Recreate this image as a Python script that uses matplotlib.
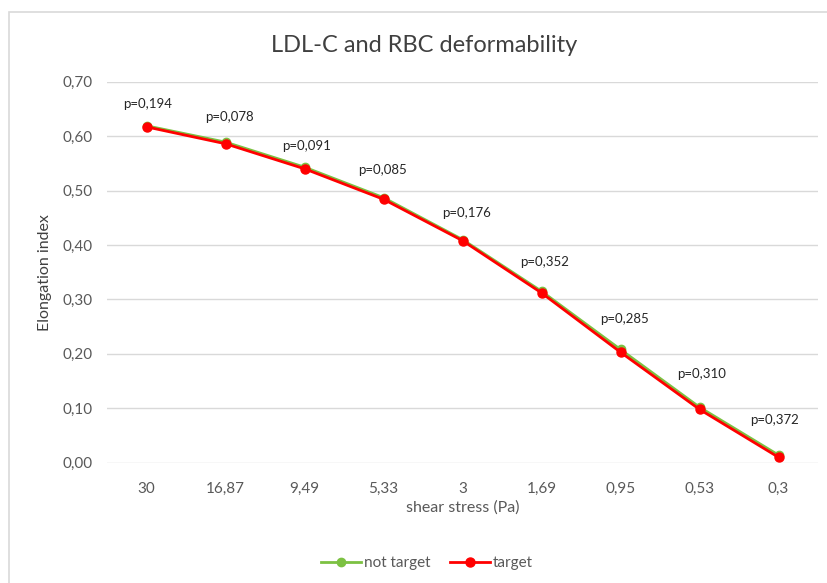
import matplotlib
matplotlib.use("Agg")
import matplotlib.pyplot as plt
from matplotlib.patches import Rectangle

# Shear stress levels (Pa) and elongation index per group
shear_labels = ["30", "16,87", "9,49", "5,33", "3", "1,69", "0,95", "0,53", "0,3"]
not_target = [0.619, 0.589, 0.543, 0.487, 0.410, 0.315, 0.208, 0.102, 0.014]
target = [0.617, 0.586, 0.540, 0.484, 0.408, 0.312, 0.203, 0.098, 0.010]
p_values = ["p=0,194", "p=0,078", "p=0,091", "p=0,085", "p=0,176",
            "p=0,352", "p=0,285", "p=0,310", "p=0,372"]
y_ticks = [0.0, 0.1, 0.2, 0.3, 0.4, 0.5, 0.6, 0.7]

# placement of the p-value labels relative to each point (points)
label_dx = [1, 2.5, 1.3, -0.9, 2.9, 2.2, 2.7, 1.4, -3.0]
label_dy = [16.3, 18.9, 16.6, 20.9, 19.9, 22.3, 24.0, 25.2, 27.1]

plt.rcParams["font.family"] = ["Lato", "DejaVu Sans"]

W, H = 827, 583
fig = plt.figure(figsize=(W / 100, H / 100), dpi=100)
fig.patch.set_facecolor("white")

# chart-area frame
fig.patches.append(Rectangle((9 / W, -0.05), 1.0, 1 - 12 / H + 0.05,
                             transform=fig.transFigure, fill=False,
                             edgecolor="#d9d9d9", linewidth=1.2))

ax = fig.add_axes([107 / W, 1 - 462.7 / H, (818 - 107) / W, (462.7 - 81.7) / H])
x = list(range(len(shear_labels)))

ax.plot(x, not_target, color="#7cc142", linewidth=2.0, marker="o",
        markersize=6, label="not target", zorder=3)
ax.plot(x, target, color="#ff0000", linewidth=2.0, marker="o",
        markersize=6.5, label="target", zorder=4)

for xi, yi, txt, dx, dy in zip(x, target, p_values, label_dx, label_dy):
    ax.annotate(txt, (xi, yi), xytext=(dx, dy), textcoords="offset points",
                ha="center", va="center", fontsize=9.5, color="#262626")

ax.set_xlim(-0.5, len(shear_labels) - 0.5)
ax.set_ylim(0, 0.7)
ax.set_yticks(y_ticks)
ax.set_yticklabels([f"{v:.2f}".replace(".", ",") for v in y_ticks])
ax.set_xticks(x)
ax.set_xticklabels(shear_labels)
ax.grid(axis="y", color="#d9d9d9", linewidth=1.0)
ax.set_axisbelow(True)
for s in ax.spines.values():
    s.set_visible(False)
ax.tick_params(length=0, colors="#595959", labelsize=11, pad=10)
ax.tick_params(axis="x", pad=14)

ax.set_xlabel("shear stress (Pa)", fontsize=11.5, color="#595959", labelpad=3)
ax.set_ylabel("Elongation index", fontsize=11.5, color="#404040", labelpad=8)

fig.text(424 / W, 1 - 45 / H, "LDL-C and RBC deformability",
         ha="center", va="center", fontsize=17, color="#404040")

fig.legend(*ax.get_legend_handles_labels(), loc="center",
           bbox_to_anchor=(427 / W, 1 - 563 / H),
           ncol=2, frameon=False, fontsize=11, handlelength=2.6,
           columnspacing=1.3, handletextpad=0.2, labelcolor="#595959")

fig.savefig("out.png", dpi=100)
